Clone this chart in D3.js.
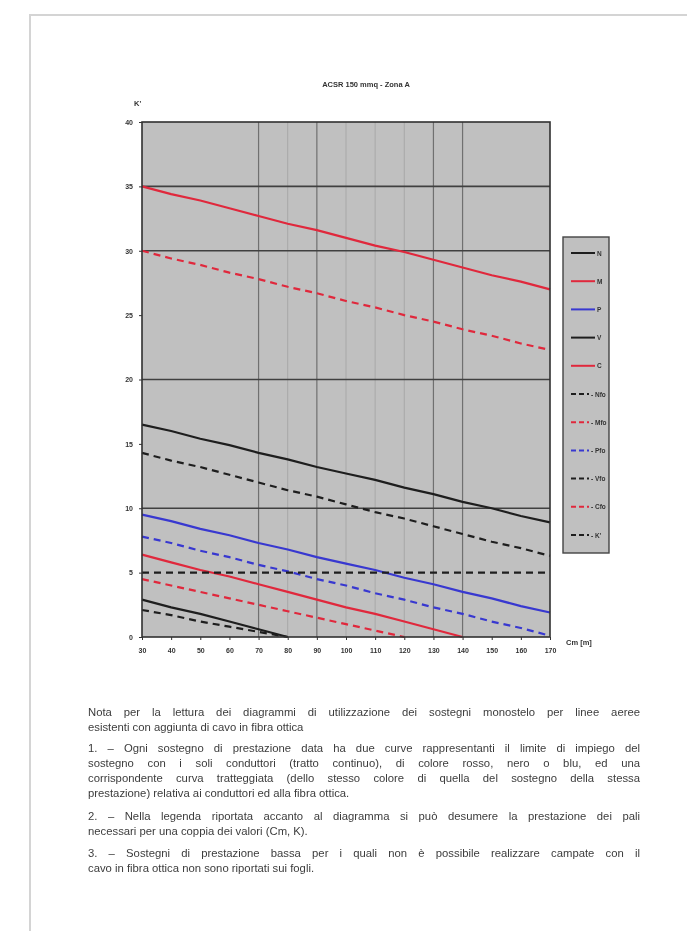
<!DOCTYPE html>
<html>
<head>
<meta charset="utf-8">
<script src="https://cdn.jsdelivr.net/npm/d3@7"></script>
<style>
  body { margin: 0; background: #fff; }
  svg { display: block; font-family: Arial, "Liberation Sans", sans-serif; filter: blur(0.4px); }
</style>
</head>
<body>
<svg width="687" height="931"></svg>
<script>
// campata media (m) - categorie asse x
const xValues = [30, 40, 50, 60, 70, 80, 90, 100, 110, 120, 130, 140, 150, 160, 170];
const yTicks = [0, 5, 10, 15, 20, 25, 30, 35, 40];
const gridDark = [10, 20, 30, 35];
const gridVDark = [70, 90, 130, 140];
const gridVLight = [80, 100, 110, 120];

// curve limite dei sostegni (continuo = solo conduttori, tratteggio = con fibra ottica)
const serN   = [2.9, 2.3, 1.8, 1.2, 0.6, 0.0];
const serM   = [6.4, 5.8, 5.2, 4.7, 4.1, 3.5, 2.9, 2.3, 1.8, 1.2, 0.6, 0.0];
const serP   = [9.5, 9.0, 8.4, 7.9, 7.3, 6.8, 6.2, 5.7, 5.2, 4.6, 4.1, 3.5, 3.0, 2.4, 1.9];
const serV   = [16.5, 16.0, 15.4, 14.9, 14.3, 13.8, 13.2, 12.7, 12.2, 11.6, 11.1, 10.5, 10.0, 9.4, 8.9];
const serC   = [35.0, 34.4, 33.9, 33.3, 32.7, 32.1, 31.6, 31.0, 30.4, 29.9, 29.3, 28.7, 28.1, 27.6, 27.0];
const serNfo = [2.1, 1.7, 1.2, 0.8, 0.4, 0.0];
const serMfo = [4.5, 4.0, 3.5, 3.0, 2.5, 2.0, 1.5, 1.0, 0.5, 0.0];
const serPfo = [7.8, 7.3, 6.7, 6.2, 5.6, 5.1, 4.5, 4.0, 3.4, 2.9, 2.3, 1.8, 1.2, 0.7, 0.1];
const serVfo = [14.3, 13.7, 13.2, 12.6, 12.0, 11.4, 10.9, 10.3, 9.7, 9.2, 8.6, 8.0, 7.4, 6.9, 6.3];
const serCfo = [30.0, 29.4, 28.9, 28.3, 27.8, 27.2, 26.7, 26.1, 25.6, 25.0, 24.5, 23.9, 23.4, 22.8, 22.3];
const serK   = [5, 5, 5, 5, 5, 5, 5, 5, 5, 5, 5, 5, 5, 5, 5];

const legendNames = ["N", "M", "P", "V", "C", "- Nfo", "- Mfo", "- Pfo", "- Vfo", "- Cfo", "- K'"];

const RED = "#e0283c", BLUE = "#3838d0", BLACK = "#1e1e1e";
const series = [
  { data: serN,   color: BLACK, dash: null },
  { data: serM,   color: RED,   dash: null },
  { data: serP,   color: BLUE,  dash: null },
  { data: serV,   color: BLACK, dash: null },
  { data: serC,   color: RED,   dash: null },
  { data: serNfo, color: BLACK, dash: "7,5" },
  { data: serMfo, color: RED,   dash: "7,5" },
  { data: serPfo, color: BLUE,  dash: "7,5" },
  { data: serVfo, color: BLACK, dash: "7,5" },
  { data: serCfo, color: RED,   dash: "7,5" },
  { data: serK,   color: BLACK, dash: "7,5" }
];

const svg = d3.select("svg");
svg.append("rect").attr("width", 687).attr("height", 931).attr("fill", "#fff");

// bordo del foglio scansionato
svg.append("path").attr("d", "M30,931 V15 H687").attr("fill", "none")
  .attr("stroke", "#d4d4d4").attr("stroke-width", 2);

const L = 142, R = 550, T = 122, B = 637;
const x = d3.scalePoint().domain(xValues).range([L, R]);
const y = d3.scaleLinear().domain([0, 40]).range([B, T]);

svg.append("rect").attr("x", L).attr("y", T).attr("width", R - L).attr("height", B - T)
  .attr("fill", "#c0c0c0");

svg.selectAll(".gvl").data(gridVLight).enter().append("line")
  .attr("x1", d => x(d)).attr("x2", d => x(d)).attr("y1", T).attr("y2", B)
  .attr("stroke", "#a8a8a8").attr("stroke-width", 1);
svg.selectAll(".gvd").data(gridVDark).enter().append("line")
  .attr("x1", d => x(d)).attr("x2", d => x(d)).attr("y1", T).attr("y2", B)
  .attr("stroke", "#707070").attr("stroke-width", 1.2);
svg.selectAll(".gh").data(gridDark).enter().append("line")
  .attr("x1", L).attr("x2", R).attr("y1", d => y(d)).attr("y2", d => y(d))
  .attr("stroke", "#404040").attr("stroke-width", 1.6);

const line = d3.line().x((d, i) => x(xValues[i])).y(d => y(d));
series.forEach(s => {
  svg.append("path").datum(s.data).attr("d", line)
    .attr("fill", "none").attr("stroke", s.color).attr("stroke-width", 2.2)
    .attr("stroke-dasharray", s.dash);
});

svg.append("rect").attr("x", L).attr("y", T).attr("width", R - L).attr("height", B - T)
  .attr("fill", "none").attr("stroke", "#303030").attr("stroke-width", 1.6);

// assi
const yAxis = svg.append("g").attr("transform", `translate(${L},0)`)
  .call(d3.axisLeft(y).tickValues(yTicks).tickSize(3).tickPadding(6));
const xAxis = svg.append("g").attr("transform", `translate(0,${B})`)
  .call(d3.axisBottom(x).tickSize(3).tickPadding(8));
[yAxis, xAxis].forEach(g => {
  g.select(".domain").remove();
  g.selectAll("line").attr("stroke", "#333");
  g.selectAll("text").attr("font-size", 7).attr("font-weight", "bold").attr("fill", "#333");
});

svg.append("text").attr("x", 366).attr("y", 87).attr("text-anchor", "middle")
  .attr("font-size", 7.5).attr("font-weight", "bold").attr("fill", "#333")
  .text("ACSR 150 mmq - Zona A");
svg.append("text").attr("x", 134).attr("y", 106).attr("font-size", 7.5)
  .attr("font-weight", "bold").attr("fill", "#333").text("K'");
svg.append("text").attr("x", 566).attr("y", 645).attr("font-size", 7.5)
  .attr("font-weight", "bold").attr("fill", "#333").text("Cm [m]");

// legenda
const lg = svg.append("g").attr("transform", "translate(563,237)");
lg.append("rect").attr("width", 46).attr("height", 316).attr("fill", "#c0c0c0")
  .attr("stroke", "#444").attr("stroke-width", 1.4);
series.forEach((s, i) => {
  const yy = 16 + i * 28.2;
  lg.append("line").attr("x1", 8).attr("x2", s.dash ? 26 : 32).attr("y1", yy).attr("y2", yy)
    .attr("stroke", s.color).attr("stroke-width", 2).attr("stroke-dasharray", s.dash ? "5,3" : null);
  lg.append("text").attr("x", s.dash ? 28 : 34).attr("y", yy + 2.5).attr("font-size", 6.5)
    .attr("font-weight", "bold").attr("fill", "#333").text(legendNames[i]);
});

// note (righe giustificate con word-spacing)
const notes = [
  { t: "Nota per la lettura dei diagrammi di utilizzazione dei sostegni monostelo per linee aeree", y: 716, j: true },
  { t: "esistenti con aggiunta di cavo in fibra ottica", y: 731, j: false },
  { t: "1. – Ogni sostegno di prestazione data ha due curve rappresentanti il limite di impiego del", y: 752, j: true },
  { t: "sostegno con i soli conduttori (tratto continuo), di colore rosso, nero o blu, ed una", y: 767, j: true },
  { t: "corrispondente curva tratteggiata (dello stesso colore di quella del sostegno della stessa", y: 782, j: true },
  { t: "prestazione) relativa ai conduttori ed alla fibra ottica.", y: 797, j: false },
  { t: "2. – Nella legenda riportata accanto al diagramma si può desumere la prestazione dei pali", y: 820, j: true },
  { t: "necessari per una coppia dei valori (Cm, K).", y: 835, j: false },
  { t: "3. – Sostegni di prestazione bassa per i quali non è possibile realizzare campate con il", y: 857, j: true },
  { t: "cavo in fibra ottica non sono riportati sui fogli.", y: 872, j: false }
];
const textW = 552;
notes.forEach(n => {
  const tx = svg.append("text").attr("x", 88).attr("y", n.y).attr("font-size", 11.3)
    .attr("fill", "#3c3c3c").text(n.t);
  if (n.j) {
    const w = tx.node().getComputedTextLength();
    const gaps = n.t.split(" ").length - 1;
    tx.attr("word-spacing", Math.max(0, (textW - w) / gaps));
  }
});
</script>
</body>
</html>
